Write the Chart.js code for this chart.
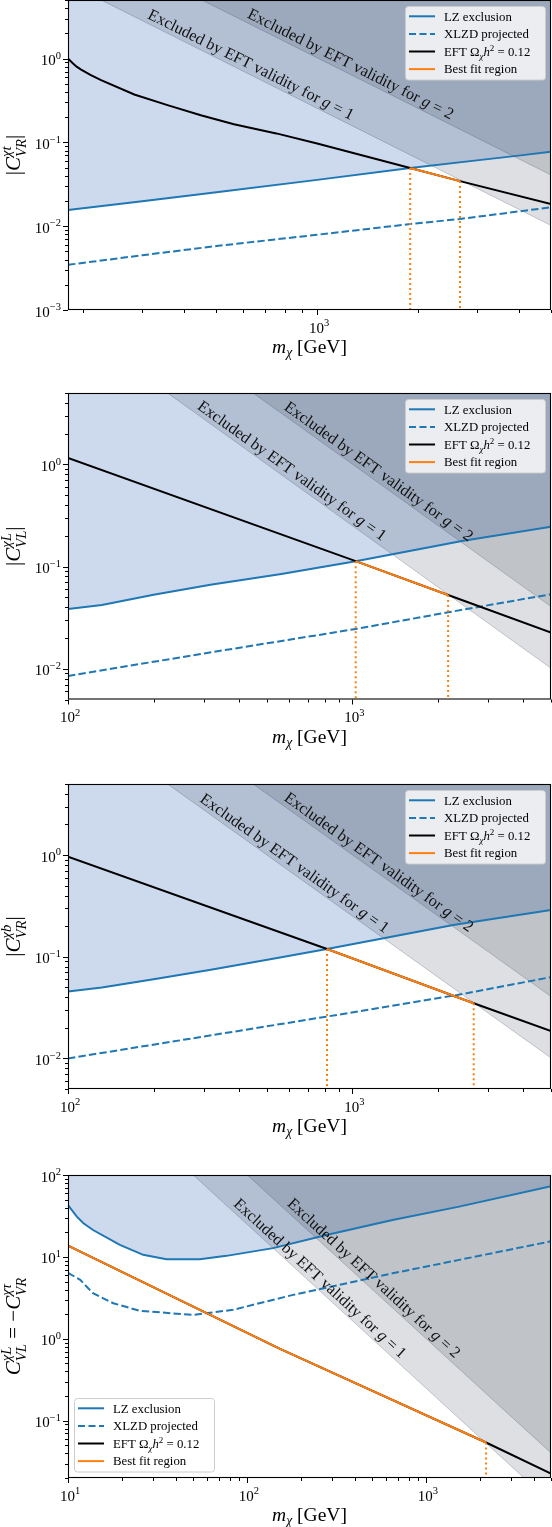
<!DOCTYPE html>
<html><head><meta charset="utf-8">
<script src="https://cdn.jsdelivr.net/npm/chart.js@4.4.1/dist/chart.umd.min.js"></script>
<style>
html,body{margin:0;padding:0;background:#fff;}
body{width:552px;height:1527px;position:relative;overflow:hidden;}
canvas{position:absolute;left:0;}
</style></head><body>
<canvas id="c1"></canvas><canvas id="c2"></canvas><canvas id="c3"></canvas><canvas id="c4"></canvas>
<script>
// ================= DATA =================
// Panel 1 : |C^{chi t}_{VR}|
const p1_lzMass   = [180, 300, 500, 1000, 1897, 3000, 4000, 5000];
const p1_lzC      = [0.0156, 0.0199, 0.0254, 0.0357, 0.0494, 0.061, 0.0695, 0.0773];
const p1_xlzdMass = [180, 300, 500, 1000, 1897, 2673, 5000];
const p1_xlzdC    = [0.00346, 0.0045, 0.0058, 0.0079, 0.0106, 0.0122, 0.0168];
const p1_eftMass  = [180, 186, 191, 197, 210, 226, 284, 357, 449, 564, 755, 1000, 1897, 2673, 5000];
const p1_eftC     = [1.0, 0.88, 0.8, 0.74, 0.64, 0.552, 0.373, 0.278, 0.211, 0.165, 0.128, 0.097, 0.0494, 0.0345, 0.0184];
const p1_bestMass = [1897, 2673];
const p1_bestC    = [0.0494, 0.0345];
const p1_dotMass  = [1897, 2673];
const p1_dotC     = [0.0494, 0.0345];
const p1_g1Mass   = [226, 5000];
const p1_g1C      = [5, 0.0102];
const p1_g2Mass   = [452, 5000];
const p1_g2C      = [5, 0.0408];
const p1_bandTextMass = [616, 1223];
const p1_xTicks = [1e3];
const p1_yTicks = [1e-3, 1e-2, 1e-1, 1];

// Panel 2 : |C^{chi L}_{VL}|
const p2_lzMass   = [100, 131.6, 200, 317, 563, 1028, 2430, 5000];
const p2_lzC      = [0.0385, 0.042, 0.053, 0.0665, 0.0847, 0.113, 0.178, 0.246];
const p2_xlzdMass = [100, 300, 1028, 2173, 5000];
const p2_xlzdC    = [0.0085, 0.0141, 0.0245, 0.0357, 0.0536];
const p2_eftMass  = [100, 1028, 2173, 5000];
const p2_eftC     = [1.155, 0.113, 0.0527, 0.0226];
const p2_bestMass = [1028, 2173];
const p2_bestC    = [0.113, 0.0527];
const p2_dotMass  = [1028, 2173];
const p2_dotC     = [0.113, 0.0527];
const p2_g1Mass   = [224, 5000];
const p2_g1C      = [5, 0.0101];
const p2_g2Mass   = [448, 5000];
const p2_g2C      = [5, 0.0406];
const p2_bandTextMass = [587, 1186];
const p2_xTicks = [1e2, 1e3];
const p2_yTicks = [1e-2, 1e-1, 1];

// Panel 3 : |C^{chi b}_{VR}|
const p3_lzMass   = [100, 131.6, 200, 318, 520, 815, 2265, 5000];
const p3_lzC      = [0.0454, 0.0497, 0.060, 0.0745, 0.095, 0.119, 0.205, 0.288];
const p3_xlzdMass = [100, 300, 815, 2335, 5000];
const p3_xlzdC    = [0.0100, 0.0164, 0.0258, 0.042, 0.063];
const p3_eftMass  = [100, 815, 2673, 5000];
const p3_eftC     = [0.964, 0.119, 0.0349, 0.0186];
const p3_bestMass = [815, 2673];
const p3_bestC    = [0.119, 0.0349];
const p3_dotMass  = [815, 2673];
const p3_dotC     = [0.119, 0.0349];
const p3_g1Mass   = [224, 5000];
const p3_g1C      = [5, 0.0101];
const p3_g2Mass   = [448, 5000];
const p3_g2C      = [5, 0.0406];
const p3_bandTextMass = [600, 1186];
const p3_xTicks = [1e2, 1e3];
const p3_yTicks = [1e-2, 1e-1, 1];

// Panel 4 : C^{chi L}_{VL} = -C^{chi tau}_{VR}
const p4_lzMass   = [10, 11.2, 12.2, 13.8, 19.5, 26.3, 35.5, 54.5, 76.8, 140, 278, 651, 1534, 5000];
const p4_lzC      = [43, 31, 25.8, 21.3, 14.0, 10.6, 9.38, 9.38, 10.3, 12.8, 18.5, 28.3, 41.1, 73];
const p4_xlzdMass = [10, 11.7, 13.8, 17.9, 25.2, 49.9, 83.6, 181, 651, 1534, 5000];
const p4_xlzdC    = [6.4, 5.25, 3.6, 2.72, 2.2, 1.96, 2.26, 3.44, 6.3, 9.2, 15.5];
const p4_eftMass  = [10, 152, 2168, 5000];
const p4_eftC     = [13.7, 0.76, 0.0543, 0.0226];
const p4_bestMass = [10, 152, 2168];
const p4_bestC    = [13.7, 0.76, 0.0543];
const p4_dotMass  = [2168];
const p4_dotC     = [0.0543];
const p4_g1Mass   = [50.1, 5000];
const p4_g1C      = [100, 0.0100];
const p4_g2Mass   = [100.4, 5000];
const p4_g2C      = [100, 0.0404];
const p4_bandTextMass = [236, 472];
const p4_xTicks = [1e1, 1e2, 1e3];
const p4_yTicks = [1e-1, 1, 1e1, 1e2];

const legendLabels = ['LZ exclusion', 'XLZD projected', 'EFT \u03A9\u03C7h\u00B2 = 0.12', 'Best fit region'];

// ================= STYLE =================
const SERIF = '"Liberation Serif","DejaVu Serif",serif';
const BLUE = '#1f77b4', ORANGE = '#ff7f0e';
const BLUE_FILL = 'rgba(100,140,200,0.32)';
const GRAY_FILL = 'rgba(30,40,60,0.15)';
const GRAY_EDGE = 'rgba(30,40,60,0.22)';

const PANELS = {
  c1: {top:0, h:310, xMin:180, xMax:5000, yMin:1e-3, yMax:5,
       lz:[p1_lzMass,p1_lzC], xlzd:[p1_xlzdMass,p1_xlzdC], eft:[p1_eftMass,p1_eftC], best:[p1_bestMass,p1_bestC],
       dot:[p1_dotMass,p1_dotC], g1:[p1_g1Mass,p1_g1C], g2:[p1_g2Mass,p1_g2C], bandText:p1_bandTextMass,
       xTicks:p1_xTicks, yTicks:p1_yTicks, legend:'ur',
       yTitle:[{t:'|'},{t:'C',it:1},{stack:[{t:'\u03C7t',it:1,sc:.7,dy:-.42},{t:'VR',it:1,sc:.7,dy:.3}]},{t:'|'}]},
  c2: {top:393, h:306.5, xMin:100, xMax:5000, yMin:0.005, yMax:5,
       lz:[p2_lzMass,p2_lzC], xlzd:[p2_xlzdMass,p2_xlzdC], eft:[p2_eftMass,p2_eftC], best:[p2_bestMass,p2_bestC],
       dot:[p2_dotMass,p2_dotC], g1:[p2_g1Mass,p2_g1C], g2:[p2_g2Mass,p2_g2C], bandText:p2_bandTextMass,
       xTicks:p2_xTicks, yTicks:p2_yTicks, legend:'ur',
       yTitle:[{t:'|'},{t:'C',it:1},{stack:[{t:'\u03C7L',it:1,sc:.7,dy:-.42},{t:'VL',it:1,sc:.7,dy:.3}]},{t:'|'}]},
  c3: {top:784, h:305, xMin:100, xMax:5000, yMin:0.005, yMax:5,
       lz:[p3_lzMass,p3_lzC], xlzd:[p3_xlzdMass,p3_xlzdC], eft:[p3_eftMass,p3_eftC], best:[p3_bestMass,p3_bestC],
       dot:[p3_dotMass,p3_dotC], g1:[p3_g1Mass,p3_g1C], g2:[p3_g2Mass,p3_g2C], bandText:p3_bandTextMass,
       xTicks:p3_xTicks, yTicks:p3_yTicks, legend:'ur',
       yTitle:[{t:'|'},{t:'C',it:1},{stack:[{t:'\u03C7b',it:1,sc:.7,dy:-.42},{t:'VR',it:1,sc:.7,dy:.3}]},{t:'|'}]},
  c4: {top:1175, h:303, xMin:10, xMax:5000, yMin:0.02, yMax:100,
       lz:[p4_lzMass,p4_lzC], xlzd:[p4_xlzdMass,p4_xlzdC], eft:[p4_eftMass,p4_eftC], best:[p4_bestMass,p4_bestC],
       dot:[p4_dotMass,p4_dotC], g1:[p4_g1Mass,p4_g1C], g2:[p4_g2Mass,p4_g2C], bandText:p4_bandTextMass,
       xTicks:p4_xTicks, yTicks:p4_yTicks, legend:'ll',
       yTitle:[{t:'C',it:1},{stack:[{t:'\u03C7L',it:1,sc:.7,dy:-.42},{t:'VL',it:1,sc:.7,dy:.3}]},{t:' = \u2212'},{t:'C',it:1},{stack:[{t:'\u03C7\u03C4',it:1,sc:.7,dy:-.42},{t:'VR',it:1,sc:.7,dy:.3}]}]}
};

const PAD_T = 10, X_AXIS_H = 60, Y_AXIS_W = 68;

// ================= RICH TEXT =================
function fontOf(s, size){ return (s.it?'italic ':'') + (size*(s.sc||1)).toFixed(2) + 'px ' + SERIF; }
function segW(ctx, s, size){
  if (s.stack) return Math.max(...s.stack.map(p=>{ctx.font=fontOf(p,size); return ctx.measureText(p.t).width;}));
  ctx.font = fontOf(s,size); return ctx.measureText(s.t).width;
}
function richW(ctx, segs, size){ return segs.reduce((w,s)=>w+segW(ctx,s,size),0); }
function drawRich(ctx, segs, size, x, y, align){
  const W = richW(ctx, segs, size);
  let cx = align==='center' ? x-W/2 : align==='right' ? x-W : x;
  ctx.textAlign='left'; ctx.textBaseline='alphabetic';
  for (const s of segs){
    if (s.stack){ for (const p of s.stack){ ctx.font=fontOf(p,size); ctx.fillText(p.t, cx, y+(p.dy||0)*size); } }
    else { ctx.font=fontOf(s,size); ctx.fillText(s.t, cx, y+(s.dy||0)*size); }
    cx += segW(ctx, s, size);
  }
  return W;
}
function powLabel(v){
  const e = Math.round(Math.log10(v));
  return [{t:'10'},{t:(e<0?'\u2212':'')+Math.abs(e), sc:.7, dy:-.42}];
}
const legendRich = [
  [{t:'LZ exclusion'}],
  [{t:'XLZD projected'}],
  [{t:'EFT \u03A9'},{t:'\u03C7',it:1,sc:.7,dy:.22},{t:'h',it:1},{t:'2',sc:.7,dy:-.38},{t:' = 0.12'}],
  [{t:'Best fit region'}]
];
const bandRich = g => [{t:'Excluded by EFT validity for '},{t:'g',it:1},{t:' = '+g}];

// ================= PLUGIN =================
const decor = {
  id:'decor',
  afterDatasetsDraw(chart){
    const P = PANELS[chart.canvas.id];
    const {ctx, scales:{x,y}} = chart;
    ctx.save();
    ctx.beginPath(); ctx.rect(chart.chartArea.left, chart.chartArea.top, chart.chartArea.right-chart.chartArea.left, chart.chartArea.bottom-chart.chartArea.top); ctx.clip();
    [[P.g1,'1',P.bandText[0]],[P.g2,'2',P.bandText[1]]].forEach(([band,g,mc])=>{
      const [ms,cs] = band;
      const lm1=Math.log10(ms[0]), lm2=Math.log10(ms[1]), lc1=Math.log10(cs[0]), lc2=Math.log10(cs[1]);
      const lc = lc1 + (Math.log10(mc)-lm1)*(lc2-lc1)/(lm2-lm1);
      const px = x.getPixelForValue(mc), py = y.getPixelForValue(Math.pow(10,lc));
      const ang = Math.atan2(y.getPixelForValue(cs[1])-y.getPixelForValue(cs[0]), x.getPixelForValue(ms[1])-x.getPixelForValue(ms[0]));
      ctx.save(); ctx.translate(px,py); ctx.rotate(ang);
      ctx.fillStyle='#111';
      drawRich(ctx, bandRich(g), 16.2, 0, -4.5, 'center');
      ctx.restore();
    });
    ctx.restore();
  },
  afterDraw(chart){
    const P = PANELS[chart.canvas.id];
    const {ctx, chartArea:a, scales:{x,y}} = chart;
    ctx.save();
    // frame
    ctx.strokeStyle='#000'; ctx.lineWidth=1.1;
    ctx.strokeRect(a.left+0.5, a.top+0.5, a.right-a.left-1, a.bottom-a.top-1);
    // ticks
    ctx.lineWidth=1;
    ctx.beginPath();
    for (let e=Math.floor(Math.log10(x.min)); e<=Math.ceil(Math.log10(x.max)); e++){
      for (let k=1;k<=9;k++){
        const v=k*Math.pow(10,e); if (v<x.min*0.9999||v>x.max*1.0001) continue;
        const px=Math.round(x.getPixelForValue(v))+0.5; const len = k===1?5:3;
        ctx.moveTo(px,a.bottom); ctx.lineTo(px,a.bottom+len);
      }
    }
    for (let e=Math.floor(Math.log10(y.min)); e<=Math.ceil(Math.log10(y.max)); e++){
      for (let k=1;k<=9;k++){
        const v=k*Math.pow(10,e); if (v<y.min*0.9999||v>y.max*1.0001) continue;
        const py=Math.round(y.getPixelForValue(v))+0.5; const len = k===1?5:3;
        ctx.moveTo(a.left,py); ctx.lineTo(a.left-len,py);
      }
    }
    ctx.stroke();
    ctx.fillStyle='#000';
    P.xTicks.forEach(v=>{ drawRich(ctx, powLabel(v), 15, x.getPixelForValue(v)+2, a.bottom+22.5, 'center'); });
    P.yTicks.forEach(v=>{ drawRich(ctx, powLabel(v), 15, a.left-7, y.getPixelForValue(v)+6.5, 'right'); });
    // axis titles
    drawRich(ctx, [{t:'m',it:1},{t:'\u03C7',it:1,sc:.7,dy:.22},{t:' [GeV]'}], 19.5, (a.left+a.right)/2, a.bottom+43, 'center');
    ctx.save(); ctx.translate(20, (a.top+a.bottom)/2); ctx.rotate(-Math.PI/2);
    drawRich(ctx, P.yTitle, 21, 0, 0, 'center');
    ctx.restore();
    // legend
    const W=140, H=73.5;
    let lx, ly;
    if (P.legend==='ur'){ lx=a.right-6-W; ly=a.top+6; } else { lx=a.left+6; ly=a.bottom-6.5-H; }
    ctx.beginPath();
    if (ctx.roundRect) ctx.roundRect(lx+0.5,ly+0.5,W,H,3); else ctx.rect(lx+0.5,ly+0.5,W,H);
    ctx.fillStyle='rgba(255,255,255,0.8)'; ctx.fill();
    ctx.strokeStyle='#cccccc'; ctx.lineWidth=1; ctx.stroke();
    const styles=[[BLUE,[]],[BLUE,[7,3.5]],['#000',[]],[ORANGE,[]]];
    for (let i=0;i<4;i++){
      const ry = ly+10.3+17.6*i;
      ctx.strokeStyle=styles[i][0]; ctx.setLineDash(styles[i][1]); ctx.lineWidth=2;
      ctx.beginPath(); ctx.moveTo(lx+4,ry); ctx.lineTo(lx+30,ry); ctx.stroke();
      ctx.setLineDash([]);
      ctx.fillStyle='#000';
      drawRich(ctx, legendRich[i], 12.8, lx+39, ry+4.3, 'left');
    }
    ctx.restore();
  }
};

function pts(arr){ return arr[0].map((m,i)=>({x:m, y:arr[1][i]})); }

function makePanel(id){
  const P = PANELS[id];
  const cv = document.getElementById(id);
  cv.width = 552; cv.height = Math.round(PAD_T + P.h + X_AXIS_H);
  cv.style.top = (P.top - PAD_T) + 'px';
  const xh = cv.height - PAD_T - P.h;
  const base = {pointRadius:0, pointHoverRadius:0, tension:0, fill:false};
  const ds = [
    {...base, label:'lzfill', data:pts(P.lz), fill:'end', backgroundColor:BLUE_FILL, borderWidth:0, order:20},
    {...base, label:'g1', data:pts(P.g1), fill:'end', backgroundColor:GRAY_FILL, borderColor:GRAY_EDGE, borderWidth:1, order:19},
    {...base, label:'g2', data:pts(P.g2), fill:'end', backgroundColor:GRAY_FILL, borderColor:GRAY_EDGE, borderWidth:1, order:18},
    {...base, label:legendLabels[0], data:pts(P.lz), borderColor:BLUE, borderWidth:2, order:6},
    {...base, label:legendLabels[1], data:pts(P.xlzd), borderColor:BLUE, borderWidth:2, borderDash:[7.4,3.2], order:5},
    {...base, label:legendLabels[2], data:pts(P.eft), borderColor:'#000', borderWidth:2, order:4},
    {...base, label:legendLabels[3], data:pts(P.best), borderColor:ORANGE, borderWidth:2, order:3}
  ];
  P.dot[0].forEach((m,i)=>{
    ds.push({...base, label:'dot'+i, data:[{x:m,y:P.dot[1][i]},{x:m,y:P.yMin}], borderColor:ORANGE, borderWidth:2, borderDash:[2,3], order:2});
  });
  new Chart(cv, {
    type:'line',
    data:{datasets:ds},
    options:{
      responsive:false, animation:false, devicePixelRatio:1,
      layout:{padding:{top:PAD_T, right:1, left:0, bottom:0}},
      plugins:{legend:{display:false}, tooltip:{enabled:false}},
      events:[],
      scales:{
        x:{type:'logarithmic', min:P.xMin, max:P.xMax, bounds:'data',
           afterFit:(s)=>{s.height=xh;}, ticks:{display:false}, grid:{display:false}, border:{display:false}},
        y:{type:'logarithmic', min:P.yMin, max:P.yMax, bounds:'data',
           afterFit:(s)=>{s.width=Y_AXIS_W;}, ticks:{display:false}, grid:{display:false}, border:{display:false}}
      }
    },
    plugins:[decor]
  });
}
['c1','c2','c3','c4'].forEach(makePanel);
</script>
</body></html>
